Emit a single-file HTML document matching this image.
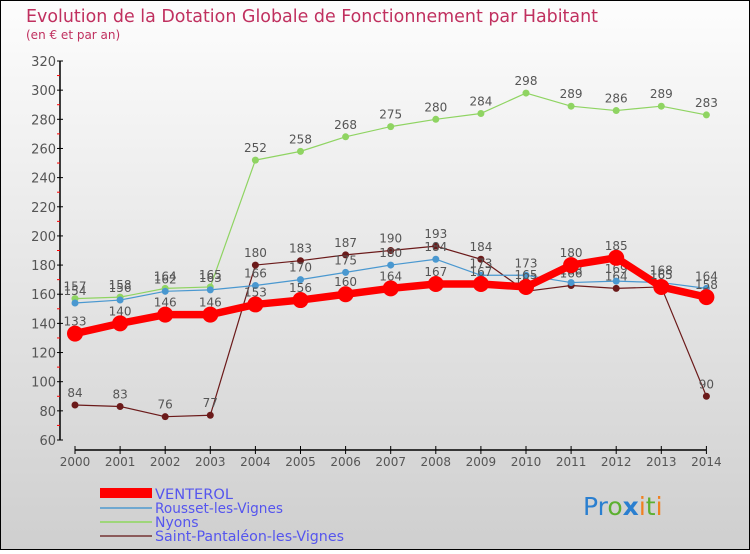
<!DOCTYPE html>
<html><head><meta charset="utf-8"><style>
html,body{margin:0;padding:0;}
body{width:750px;height:550px;overflow:hidden;font-family:"DejaVu Sans","Liberation Sans",sans-serif;}
svg text{font-family:"DejaVu Sans","Liberation Sans",sans-serif;}
</style></head><body>
<svg id="chart" width="750" height="550" xmlns="http://www.w3.org/2000/svg">
<defs><linearGradient id="bg" x1="0" y1="0" x2="0" y2="1"><stop offset="0" stop-color="#fdfdfd"/><stop offset="1" stop-color="#cfcfcf"/></linearGradient></defs>
<rect x="0.5" y="0.5" width="749" height="549" fill="url(#bg)" stroke="#000"/>
<text x="26" y="22" font-size="18" fill="#c0305f" textLength="572" lengthAdjust="spacingAndGlyphs">Evolution de la Dotation Globale de Fonctionnement par Habitant</text>
<text x="26" y="39" font-size="12" fill="#c0305f">(en € et par an)</text>
<g id="axes"></g><g id="series"></g>
<g>
<rect x="100" y="488" width="52" height="10" fill="#ff0000"/>
<text x="155" y="499" font-size="14" fill="#5555ee" textLength="78" lengthAdjust="spacingAndGlyphs">VENTEROL</text>
<rect x="100" y="507" width="52" height="2" fill="#6fa8d0"/>
<text x="155" y="513" font-size="14" fill="#5555ee" textLength="128" lengthAdjust="spacingAndGlyphs">Rousset-les-Vignes</text>
<rect x="100" y="521" width="52" height="2" fill="#9ed67a"/>
<text x="155" y="527" font-size="14" fill="#5555ee">Nyons</text>
<rect x="100" y="535" width="52" height="2" fill="#8b5a5a"/>
<text x="155" y="541" font-size="14" fill="#5555ee" textLength="189" lengthAdjust="spacingAndGlyphs">Saint-Pantaléon-les-Vignes</text>
</g>
<text x="583" y="515" font-size="25"><tspan fill="#2a7fd0">Pr</tspan><tspan fill="#5cb030">o</tspan><tspan fill="#2a7fd0" font-weight="bold">x</tspan><tspan fill="#f08020">i</tspan><tspan fill="#5cb030">t</tspan><tspan fill="#f08020">i</tspan></text>
</svg>
<script>
const years=[2000,2001,2002,2003,2004,2005,2006,2007,2008,2009,2010,2011,2012,2013,2014];
const venterol=[133,140,146,146,153,156,160,164,167,167,165,180,185,165,158];
const rousset=[154,156,162,163,166,170,175,180,184,173,173,168,169,168,164];
const nyons=[157,158,164,165,252,258,268,275,280,284,298,289,286,289,283];
const saintp=[84,83,76,77,180,183,187,190,193,184,162,166,164,165,90];
const yTicks=[60,80,100,120,140,160,180,200,220,240,260,280,300,320];
const NS="http://www.w3.org/2000/svg";
const xs=i=>75+i*45.1;
const ys=v=>440-(v-60)*(379/260);
function mk(tag,attrs,parent){const e=document.createElementNS(NS,tag);for(const k in attrs)e.setAttribute(k,attrs[k]);parent.appendChild(e);return e;}
const ax=document.getElementById('axes');
let l=mk('line',{x1:60,y1:ys(320),x2:60,y2:440,stroke:'#000','stroke-width':1.5},ax);


yTicks.forEach(v=>{
 let t=mk('line',{x1:57,y1:ys(v),x2:63,y2:ys(v),stroke:'#000'},ax);
 
 
 if(v<320){let m=mk('line',{x1:57,y1:ys(v+10),x2:60,y2:ys(v+10),stroke:'#f00'},ax);
 
 }
 let tx=mk('text',{x:56,y:ys(v)+5,'font-size':13,fill:'#555','text-anchor':'end'},ax);tx.textContent=v;
 
 
});
let xl=mk('line',{x1:xs(0),y1:450,x2:xs(14),y2:450,stroke:'#000','stroke-width':1.5},ax);


years.forEach((y,i)=>{
 let t=mk('line',{x1:xs(i),y1:446,x2:xs(i),y2:454,stroke:'#000'},ax);
 
 
 let tx=mk('text',{x:xs(i),y:466,'font-size':12,fill:'#555','text-anchor':'middle'},ax);tx.textContent=y;
 
 
});
const sg=document.getElementById('series');
function series(data,color,lw,r,name){
 const g=mk('g',{},sg);
 
 
 let p=mk('polyline',{points:data.map((v,i)=>xs(i)+','+ys(v)).join(' '),fill:'none',stroke:color,'stroke-width':lw,'stroke-linejoin':'round'},g);
 
 
 data.forEach((v,i)=>{
  let c=mk('circle',{cx:xs(i),cy:ys(v),r:r,fill:color},g);
  
  
  let t=mk('text',{x:xs(i),y:ys(v)-8,'font-size':12,fill:'#555','text-anchor':'middle'},g);t.textContent=v;
  
  
 });
}
series(saintp,'#6b1a1a',1.2,3.5,'saint-pantaleon');
series(nyons,'#8fd462',1.2,3.5,'nyons');
series(rousset,'#4a98d0',1.2,3.5,'rousset');
series(venterol,'#ff0000',7.5,8,'venterol');
</script>
</body></html>
